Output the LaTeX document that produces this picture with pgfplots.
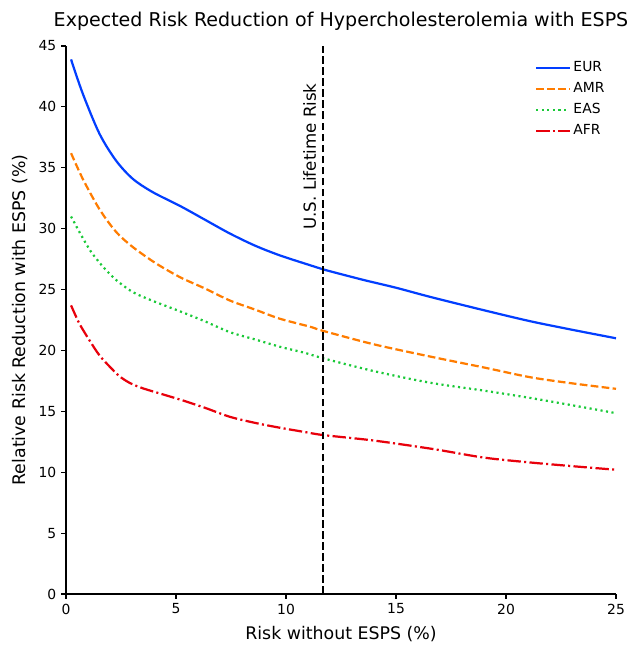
\documentclass[border=0pt]{standalone}
\usepackage{fontspec}
\setmainfont{DejaVu Sans}
\usepackage{pgfplots}
\pgfplotsset{compat=1.18}
\definecolor{cEUR}{HTML}{023EFF}
\definecolor{cAMR}{HTML}{FF7C00}
\definecolor{cEAS}{HTML}{1AC938}
\definecolor{cAFR}{HTML}{E8000B}
\begin{document}
\begin{tikzpicture}
\path[use as bounding box] (-47.52pt,-37.44pt) rectangle (403.92pt,427.68pt);
\begin{axis}[
  at={(0,0)}, anchor=south west,
  scale only axis,
  width=396pt, height=394.56pt,
  xmin=0, xmax=25, ymin=0, ymax=45,
  xtick={0,5,10,15,20,25},
  ytick={0,5,10,15,20,25,30,35,40,45},
  axis x line*=bottom, axis y line*=left,
  axis line style={line width=0.8pt},
  tick align=outside,
  major tick length=3.5pt,
  tick style={line width=0.8pt, black},
  /pgf/number format/assume math mode=true,
  ticklabel style={font=\fontsize{10}{12}\selectfont},
  xlabel={Risk without ESPS (\%)},
  ylabel={Relative Risk Reduction with ESPS (\%)},
  label style={font=\fontsize{12.5}{15}\selectfont},
  xlabel style={yshift=-2pt},
  ylabel style={yshift=1pt},
  title={Expected Risk Reduction of Hypercholesterolemia with ESPS},
  title style={font=\fontsize{13.7}{16}\selectfont, yshift=2pt},
  legend style={at={(1,1)}, anchor=north east, draw=none, fill=none,
    font=\fontsize{10}{12}\selectfont, row sep=2.3pt, xshift=-3pt, yshift=-7pt},
  legend cell align=left,
  legend image code/.code={\draw[#1] (0pt,0pt) -- (24pt,0pt);},
]
\addplot[cEUR, line width=1.6pt, smooth, tension=0.5] coordinates {
(0.23,43.9) (0.76,41.1) (1.52,37.8) (2.27,35.6) (3.03,34.1) (3.94,33.0) (5.2,31.85)
(6.3,30.75) (7.45,29.6) (8.6,28.6) (9.73,27.8) (11.09,27.0) (11.7,26.65) (13.5,25.8)
(15,25.15) (16.55,24.4) (19,23.3) (21.1,22.4) (23,21.7) (25,21.0)};
\addlegendentry{EUR}
\addplot[cAMR, line width=1.6pt, dash pattern=on 5.55pt off 2.4pt, smooth, tension=0.5] coordinates {
(0.23,36.2) (0.76,34.1) (1.52,31.6) (2.27,29.75) (3.03,28.5) (4.09,27.15) (5.2,26.0)
(6.3,25.1) (7.45,24.1) (8.6,23.35) (9.73,22.6) (11.09,21.95) (11.7,21.6) (14,20.5)
(16.55,19.5) (19,18.6) (21.1,17.8) (23,17.3) (25,16.85)};
\addlegendentry{AMR}
\addplot[cEAS, line width=1.6pt, dash pattern=on 1.5pt off 2.5pt, smooth, tension=0.5] coordinates {
(0.23,31.0) (0.68,29.5) (1.14,28.1) (1.67,26.9) (2.27,25.8) (3.03,24.8) (3.9,24.1)
(5.2,23.2) (6.3,22.4) (7.45,21.5) (8.6,20.9) (9.73,20.3) (10.86,19.8) (11.7,19.35)
(14,18.3) (16.55,17.35) (19,16.7) (21.1,16.1) (23,15.5) (25,14.85)};
\addlegendentry{EAS}
\addplot[cAFR, line width=1.6pt, dash pattern=on 9.6pt off 2.4pt on 1.5pt off 2.4pt, smooth, tension=0.5] coordinates {
(0.23,23.7) (0.61,22.2) (1.06,20.85) (1.52,19.6) (1.97,18.7) (2.42,17.9) (2.88,17.35)
(3.48,16.9) (4.39,16.4) (5.3,15.9) (6.3,15.3) (7.45,14.55) (8.6,14.05) (9.73,13.65)
(10.86,13.3) (11.7,13.05) (14,12.6) (16.7,11.9) (19,11.2) (21.1,10.8) (23,10.5) (25,10.2)};
\addlegendentry{AFR}
\addplot[black, line width=1.5pt, dash pattern=on 5.55pt off 2.4pt, forget plot] coordinates {(11.7,0) (11.7,45)};
\node[rotate=90, anchor=south east, inner sep=0pt, yshift=5pt, font=\fontsize{12}{14}\selectfont] at (axis cs:11.7,41.95) {U.S. Lifetime Risk};
\end{axis}
\end{tikzpicture}
\end{document}
